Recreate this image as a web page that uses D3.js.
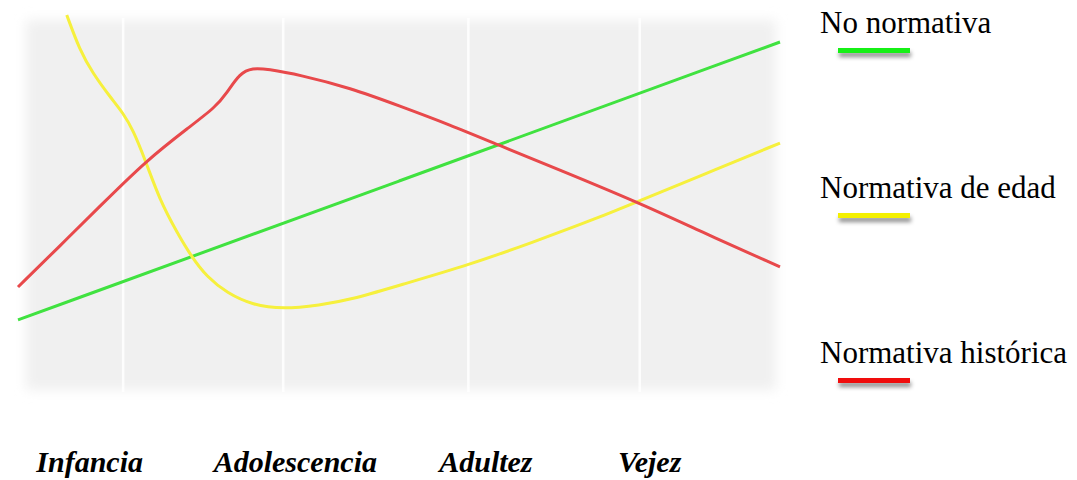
<!DOCTYPE html>
<html>
<head>
<meta charset="utf-8">
<script src="https://cdn.jsdelivr.net/npm/d3@7"></script>
<style>
  body { margin: 0; background: #fff; }
  svg { display: block; }
  .serif { font-family: "Liberation Serif", Tinos, "Times New Roman", serif; }
</style>
</head>
<body>
<svg id="chart"></svg>
<script>
// values, arbitrary units (x: 0..100 along life, y: 0..100)
const stages = ["Infancia", "Adolescencia", "Adultez", "Vejez"]
const stagePos = [9.4, 36.4, 61.4, 82.9]   // where each stage label sits on the x axis
const gridPos = [13.8, 34.8, 59.1, 81.6]

const seriesNames = ["No normativa", "Normativa de edad", "Normativa histórica"]

const noNormX = [0, 50, 100]
const noNormY = [17.6, 55.1, 92.7]

const edadX = [6.4, 8.1, 9.8, 12.1, 13.8, 15.1, 16.7, 18.6, 20.9, 22.8, 24.8, 27.4, 30.8, 34.8, 39.6, 43.6, 50.1, 59.1, 67.6, 76.4, 81.2, 89.5, 100]
const edadY = [100, 90.5, 84.3, 77.8, 73.5, 68.9, 60.8, 50.0, 41.1, 34.6, 29.2, 24.9, 21.6, 20.5, 21.6, 23.0, 27.0, 32.4, 38.6, 45.4, 49.5, 56.5, 65.4]

const histX = [0, 5.5, 10.8, 16.9, 22.6, 25.9, 27.4, 29.1, 30.8, 32.7, 37.0, 43.6, 50.1, 56.7, 63.0, 71.1, 81.2, 89.5, 100]
const histY = [26.5, 37.6, 48.4, 60.8, 69.9, 75.1, 78.9, 84.3, 85.7, 85.4, 83.8, 80.3, 75.4, 70.3, 64.9, 58.1, 49.5, 41.6, 31.9]

const W = 1077, H = 480
const svg = d3.select("#chart").attr("width", W).attr("height", H)

let x = d3.scaleLinear().domain([0, 100]).range([18, 780])
let y = d3.scaleLinear().domain([0, 100]).range([385, 15])

const defs = svg.append("defs")
defs.append("filter").attr("id", "soft")
    .attr("x", "-10%").attr("y", "-10%").attr("width", "120%").attr("height", "120%")
  .append("feGaussianBlur").attr("stdDeviation", 6)
defs.append("filter").attr("id", "lineblur")
  .append("feGaussianBlur").attr("stdDeviation", 0.5)
let sh = defs.append("filter").attr("id", "shadow")
    .attr("x", "-20%").attr("y", "-100%").attr("width", "140%").attr("height", "400%")
sh.append("feDropShadow").attr("dx", 1).attr("dy", 4).attr("stdDeviation", 2)
  .attr("flood-color", "#000").attr("flood-opacity", 0.45)

// plot background with feathered edges
svg.append("rect")
    .attr("x", x(0) + 8).attr("y", 20)
    .attr("width", x(100) - x(0) - 12).attr("height", 370)
    .attr("fill", "#f0f0f0")
    .attr("filter", "url(#soft)")

// vertical gridlines
svg.append("g").selectAll("line").data(gridPos).join("line")
    .attr("x1", d => x(d)).attr("x2", d => x(d))
    .attr("y1", 18).attr("y2", 392)
    .attr("stroke", "#fff").attr("stroke-width", 2.5)
    .attr("opacity", 0.9)

const series = [
  {name: seriesNames[0], xs: noNormX, ys: noNormY, color: "#3fe23f", key: "#19f019"},
  {name: seriesNames[1], xs: edadX, ys: edadY, color: "#f6f03c", key: "#f4f000"},
  {name: seriesNames[2], xs: histX, ys: histY, color: "#e8484b", key: "#f01010"}
]

let line = d3.line().x(d => x(d[0])).y(d => y(d[1])).curve(d3.curveBasis)

svg.append("g").selectAll("path").data(series).join("path")
    .attr("d", s => line(d3.zip(s.xs, s.ys)))
    .attr("fill", "none")
    .attr("stroke", s => s.color)
    .attr("stroke-width", 3)
    .attr("filter", "url(#lineblur)")

// stage labels under the plot
svg.append("g").selectAll("text").data(stages).join("text")
    .attr("class", "serif")
    .attr("x", (d, i) => x(stagePos[i]))
    .attr("y", 472)
    .attr("text-anchor", "middle")
    .style("font-weight", "bold")
    .style("font-style", "italic")
    .style("font-size", "30px")
    .attr("fill", "#000")
    .text(d => d)

// legend
const legendY = [33, 198, 363]
let lg = svg.append("g").selectAll("g").data(series).join("g")
    .attr("transform", (d, i) => "translate(820," + legendY[i] + ")")
lg.append("text")
    .attr("class", "serif")
    .style("font-size", "31px")
    .attr("fill", "#000")
    .text(d => d.name)
lg.append("rect")
    .attr("x", 18).attr("y", 15)
    .attr("width", 72).attr("height", 5)
    .attr("fill", d => d.key)
    .attr("filter", "url(#shadow)")
</script>
</body>
</html>
